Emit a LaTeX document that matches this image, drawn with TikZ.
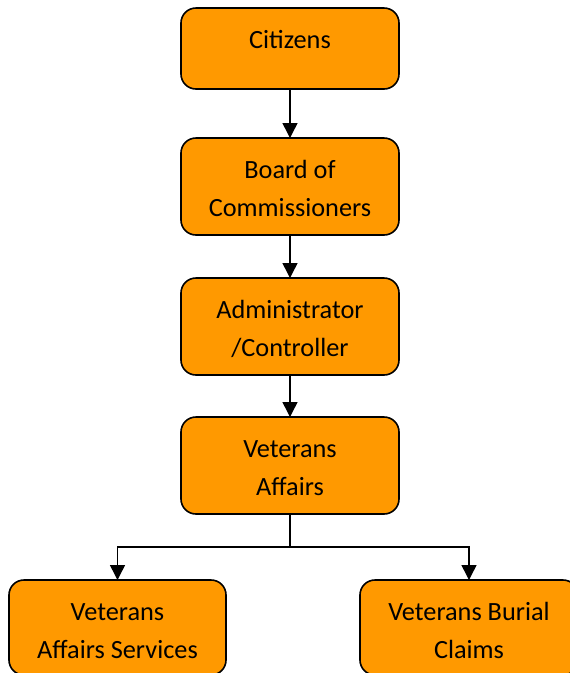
\documentclass[tikz,border=0pt]{standalone}
\usepackage{fontspec}
\setmainfont{Carlito}
\usetikzlibrary{arrows.meta}
\definecolor{boxorange}{RGB}{255,153,0}
\newcommand{\boxtext}[3]{\parbox[c][#2pt][t]{#1pt}{\centering\fontsize{26.3}{38}\selectfont\rule{0pt}{40.5pt}#3\par}}
\tikzset{
  orgbox/.style={draw=black, line width=1.6pt, fill=boxorange, rounded corners=15pt, inner sep=0pt, outer sep=0pt},
  conn/.style={line width=1.5pt, draw=black},
  arr/.style={conn, -{Triangle[length=15pt,width=15pt]}}
}
\begin{document}
\begin{tikzpicture}[x=1pt,y=-1pt]
\useasboundingbox (0,0) rectangle (570,673);
\node[orgbox] (cit) at (290,48.5) {\boxtext{218}{81}{Citizens}};
\node[orgbox] (board) at (290,186.5) {\boxtext{218}{97}{Board of\\Commissioners}};
\node[orgbox] (admin) at (290,326.5) {\boxtext{218}{97}{Administrator\\/Controller}};
\node[orgbox] (va) at (290,465.5) {\boxtext{218}{97}{Veterans\\Affairs}};
\node[orgbox] (vas) at (117.5,627.5) {\boxtext{217}{95}{Veterans\\Affairs Services}};
\node[orgbox] (vbc) at (469,627.5) {\boxtext{218}{95}{Veterans Burial\\Claims}};
\coordinate (split) at (290,547);
\draw[arr] (cit.south) -- (board.north);
\draw[arr] (board.south) -- (admin.north);
\draw[arr] (admin.south) -- (va.north);
\draw[conn] (va.south) -- (split);
\draw[arr] (split) -| (vas.north);
\draw[arr] (split) -| (vbc.north);
\end{tikzpicture}
\end{document}
